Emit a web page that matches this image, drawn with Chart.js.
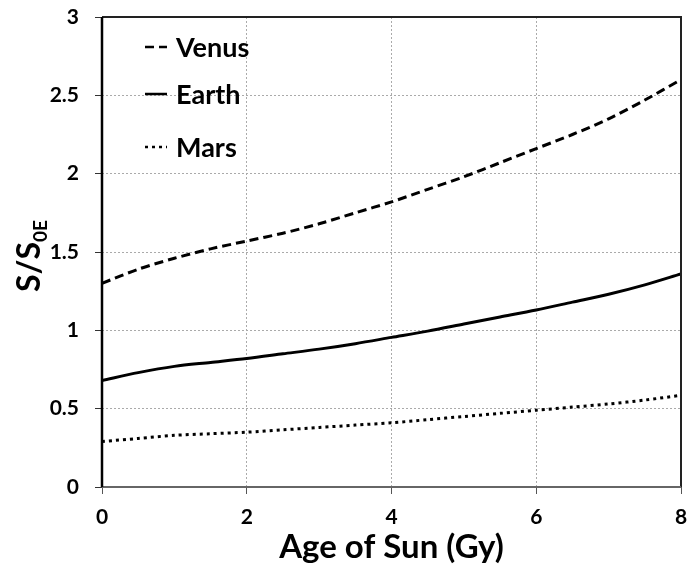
<!DOCTYPE html>
<html>
<head>
<meta charset="utf-8">
<script src="https://cdn.jsdelivr.net/npm/chart.js@4.4.0/dist/chart.umd.min.js"></script>
<style>
html,body{margin:0;padding:0;background:#fff;}
#wrap{width:689px;height:571px;position:relative;}
</style>
</head>
<body>
<div id="wrap"><canvas id="c" width="689" height="571"></canvas></div>
<script>
const ages = [0,0.5,1,1.5,2,2.5,3,3.5,4,4.5,5,5.5,6,6.5,7,7.5,8];
const venus = [1.30,1.39,1.46,1.52,1.57,1.62,1.68,1.75,1.82,1.90,1.98,2.07,2.16,2.25,2.35,2.47,2.60];
const earth = [0.68,0.73,0.77,0.795,0.82,0.85,0.88,0.915,0.955,0.995,1.04,1.085,1.13,1.18,1.23,1.29,1.36];
const mars  = [0.29,0.31,0.33,0.34,0.35,0.365,0.38,0.395,0.41,0.43,0.45,0.47,0.49,0.51,0.53,0.555,0.585];
const seriesNames = ['Venus','Earth','Mars'];
const xTicks = [0,2,4,6,8];
const yTicks = [0,0.5,1,1.5,2,2.5,3];
const xTitle = 'Age of Sun (Gy)';
const yTitleMain = 'S/S';
const yTitleSub = '0E';

const FONT = 'Lato, "Open Sans", sans-serif';
const pts = arr => arr.map((v,i)=>({x:ages[i],y:v}));

const framePlugin = {
  id:'frame',
  afterDatasetsDraw(chart){
    const {ctx, chartArea:a} = chart;
    ctx.save();
    ctx.strokeStyle='#222'; ctx.lineWidth=2;
    ctx.beginPath();
    ctx.moveTo(a.left,a.top); ctx.lineTo(a.right,a.top); ctx.lineTo(a.right,a.bottom);
    ctx.stroke();
    ctx.strokeStyle='#666'; ctx.lineWidth=2;
    ctx.beginPath(); ctx.moveTo(a.left,a.bottom); ctx.lineTo(a.right,a.bottom); ctx.stroke();
    ctx.strokeStyle='#000'; ctx.lineWidth=2.5;
    ctx.beginPath(); ctx.moveTo(a.left,a.top); ctx.lineTo(a.left,a.bottom); ctx.stroke();
    // legend
    const rows=[47,94,147];
    ctx.font='bold 27px '+FONT;
    ctx.textBaseline='middle';
    chart.data.datasets.forEach((ds,i)=>{
      const y=rows[i];
      ctx.strokeStyle='#000'; ctx.lineWidth=2.5;
      ctx.setLineDash(ds.borderDash||[]);
      ctx.beginPath(); ctx.moveTo(145,y); ctx.lineTo(167,y); ctx.stroke();
      ctx.setLineDash([]);
      ctx.fillStyle='#000';
      ctx.fillText(ds.label,176,y+1);
    });
    // y title with subscript
    ctx.save();
    ctx.translate(29,(a.top+a.bottom)/2+4);
    ctx.rotate(-Math.PI/2);
    ctx.font='bold 32px '+FONT;
    const w1=ctx.measureText(yTitleMain).width;
    ctx.font='bold 19px '+FONT;
    const w2=ctx.measureText(yTitleSub).width;
    const tot=w1+w2;
    ctx.textBaseline='alphabetic';
    ctx.textAlign='left';
    ctx.fillStyle='#000';
    ctx.font='bold 32px '+FONT;
    ctx.fillText(yTitleMain,-tot/2,11);
    ctx.font='bold 19px '+FONT;
    ctx.fillText(yTitleSub,-tot/2+w1,18);
    ctx.restore();
    ctx.restore();
  }
};

function zeroPad(s){s.paddingTop=0;s.paddingBottom=0;s.paddingLeft=0;s.paddingRight=0;}

new Chart(document.getElementById('c'),{
  type:'line',
  data:{datasets:[
    {label:seriesNames[0],data:pts(venus),borderColor:'#000',borderWidth:3,borderDash:[9,5],pointRadius:0,tension:0.3,fill:false},
    {label:seriesNames[1],data:pts(earth),borderColor:'#000',borderWidth:3,pointRadius:0,tension:0.3,fill:false},
    {label:seriesNames[2],data:pts(mars),borderColor:'#000',borderWidth:3,borderDash:[3,4],pointRadius:0,tension:0.3,fill:false}
  ]},
  options:{
    responsive:false,animation:false,
    layout:{padding:{top:17,right:8,left:0,bottom:0}},
    plugins:{legend:{display:false},tooltip:{enabled:false}},
    scales:{
      x:{type:'linear',min:0,max:8,
        afterBuildTicks(s){s.ticks=xTicks.map(v=>({value:v}));},
        ticks:{color:'#000',font:{family:FONT,size:21,weight:'bold'},padding:11,callback:v=>String(v)},
        grid:{color:'#aaa',drawTicks:true,tickLength:7,tickColor:'#555',tickBorderDash:[]},
        border:{display:false,dash:[2,2]},
        title:{display:true,text:xTitle,color:'#000',font:{family:FONT,size:33,weight:'bold'},padding:{top:5}},
        afterFit(s){s.height=84;zeroPad(s);}
      },
      y:{min:0,max:3,
        afterBuildTicks(s){s.ticks=yTicks.map(v=>({value:v}));},
        ticks:{color:'#000',font:{family:FONT,size:21,weight:'bold'},padding:16,callback:v=>String(v)},
        grid:{color:'#aaa',drawTicks:true,tickLength:7,tickColor:'#333',tickBorderDash:[]},
        border:{display:false,dash:[2,2]},
        afterFit(s){s.width=102;zeroPad(s);}
      }
    }
  },
  plugins:[framePlugin]
});
</script>
</body>
</html>
